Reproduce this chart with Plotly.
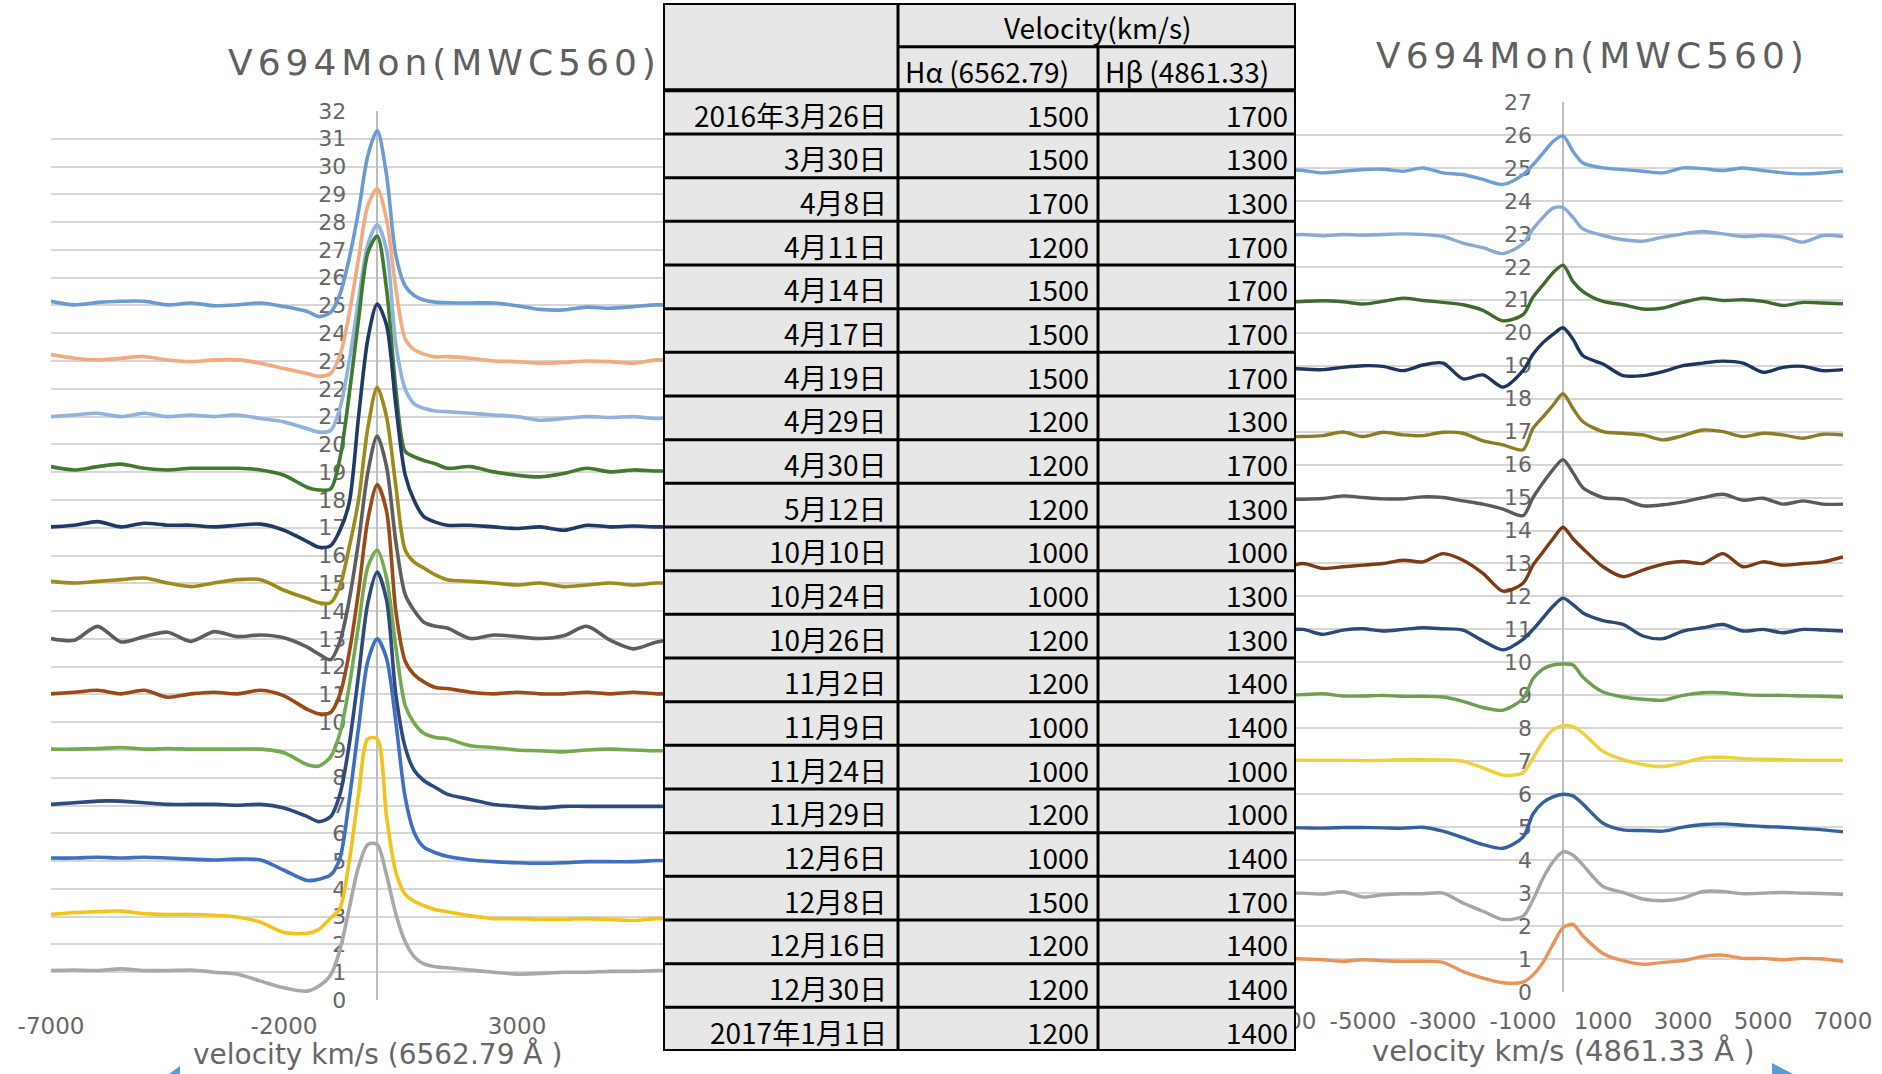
import plotly.graph_objects as go

W, H = 1882, 1074

# ---------------------------------------------------------------- data: H-alpha profiles (left chart)
VEL_HA = [-7000, -6500, -6000, -5500, -5000, -4500, -4000, -3500, -3000, -2500, -2000,
          -1500, -1250, -1000, -800, -600, -400, -200, 0, 200, 400, 600, 800, 1000, 1250, 1500,
          2000, 2500, 3000, 3500, 4000, 4500, 5000, 5500, 6000, 6500, 7000, 8000]

HA_25 = [25.15, 25.02, 25.11, 25.15, 25.15, 25.02, 25.09, 24.99, 25.02, 25.09, 24.96,
         24.78, 24.60, 24.75, 25.40, 26.70, 28.40, 30.40, 31.30, 29.70, 26.80, 25.70, 25.35, 25.20, 25.12, 25.10,
         25.09, 25.09, 24.99, 24.86, 24.84, 24.94, 24.90, 24.96, 25.02, 25.00, 25.00, 25.00]
HA_23 = [23.23, 23.10, 23.04, 23.10, 23.16, 23.04, 22.98, 23.04, 23.04, 22.92, 22.73,
         22.55, 22.45, 22.55, 23.20, 24.70, 26.70, 28.60, 29.20, 28.10, 25.60, 23.80, 23.40, 23.25, 23.15, 23.16,
         23.10, 23.00, 22.98, 22.92, 22.95, 23.00, 22.98, 22.92, 23.04, 23.00, 23.00, 23.00]
HA_21 = [21.00, 21.06, 21.12, 21.00, 21.12, 21.00, 21.06, 21.00, 21.06, 20.93, 20.81,
         20.56, 20.44, 20.50, 21.30, 23.00, 25.20, 27.20, 27.90, 27.00, 23.60, 22.00, 21.45, 21.30, 21.20, 21.18,
         21.12, 21.06, 21.00, 20.87, 20.93, 21.00, 20.97, 21.00, 20.93, 21.00, 21.00, 21.00]
HA_19 = [19.20, 19.08, 19.20, 19.29, 19.14, 19.08, 19.14, 19.14, 19.14, 19.08, 18.89,
         18.45, 18.36, 18.40, 19.50, 21.80, 24.50, 26.90, 27.50, 25.60, 22.00, 19.75, 19.55, 19.42, 19.30, 19.14,
         19.20, 19.01, 18.89, 18.83, 18.95, 19.14, 19.01, 19.08, 19.04, 19.05, 19.05, 19.05]
HA_17 = [17.03, 17.09, 17.22, 17.03, 17.16, 17.09, 17.09, 17.03, 17.09, 17.13, 16.91,
         16.50, 16.30, 16.35, 16.90, 17.90, 21.00, 23.80, 25.05, 24.30, 21.40, 18.90, 17.95, 17.40, 17.20, 17.09,
         17.09, 17.03, 16.97, 17.03, 16.91, 17.09, 17.03, 17.06, 17.03, 17.05, 17.05, 17.05]
HA_15 = [15.07, 15.01, 15.07, 15.13, 15.19, 15.01, 14.88, 15.01, 15.13, 15.13, 14.75,
         14.45, 14.30, 14.30, 14.90, 16.30, 18.00, 20.60, 22.05, 21.00, 18.50, 16.20, 15.75, 15.55, 15.30, 15.13,
         15.07, 15.01, 14.94, 15.01, 14.88, 14.94, 15.01, 14.94, 15.01, 15.00, 15.00, 15.00]
HA_13 = [13.01, 12.95, 13.45, 12.89, 13.08, 13.24, 12.91, 13.26, 13.08, 13.14, 13.04,
         12.70, 12.45, 12.25, 12.90, 14.40, 16.50, 19.00, 20.30, 19.20, 16.50, 14.60, 14.00, 13.60, 13.45, 13.39,
         13.01, 13.14, 13.08, 13.01, 13.11, 13.45, 12.95, 12.64, 12.89, 13.00, 13.00, 13.00]
HA_11 = [11.02, 11.08, 11.15, 11.02, 11.15, 10.90, 11.02, 11.08, 11.02, 11.15, 10.95,
         10.46, 10.30, 10.35, 11.00, 12.50, 14.70, 17.30, 18.55, 17.60, 14.00, 12.20, 11.70, 11.45, 11.25, 11.21,
         11.08, 11.02, 11.08, 11.02, 11.02, 11.08, 11.02, 11.08, 11.02, 11.05, 11.05, 11.05]
HA_09 = [9.03, 9.03, 9.05, 9.09, 9.03, 9.05, 9.03, 9.03, 9.03, 9.03, 8.90,
         8.47, 8.42, 8.75, 9.60, 11.30, 13.50, 15.60, 16.20, 15.20, 12.70, 10.60, 9.95, 9.60, 9.45, 9.40,
         9.15, 9.09, 9.00, 8.97, 8.93, 9.00, 9.03, 9.00, 8.97, 9.00, 9.00, 9.00]
HA_07 = [7.04, 7.10, 7.16, 7.16, 7.10, 7.04, 7.04, 7.04, 7.01, 7.04, 6.91,
         6.60, 6.42, 6.60, 7.40, 9.20, 11.70, 14.30, 15.40, 14.40, 11.00, 9.10, 8.25, 7.90, 7.65, 7.41,
         7.22, 7.04, 6.97, 6.91, 6.97, 6.97, 6.97, 6.97, 6.97, 6.97, 6.97, 6.97]
HA_05 = [5.11, 5.11, 5.14, 5.11, 5.14, 5.11, 5.07, 5.04, 5.07, 5.04, 4.67,
         4.30, 4.35, 4.50, 5.10, 7.20, 9.80, 12.20, 13.00, 12.30, 10.00, 7.30, 6.00, 5.50, 5.30, 5.17,
         5.04, 4.98, 4.94, 4.92, 4.94, 4.98, 4.98, 4.98, 5.02, 5.00, 5.00, 5.00]
HA_03 = [3.08, 3.15, 3.18, 3.20, 3.11, 3.08, 3.08, 3.05, 2.99, 2.80, 2.43,
         2.40, 2.55, 2.95, 3.30, 5.00, 7.40, 9.40, 9.40, 6.60, 4.60, 3.80, 3.55, 3.40, 3.25, 3.18,
         3.03, 2.93, 2.93, 2.90, 2.90, 2.93, 2.90, 2.86, 2.93, 2.90, 2.90, 2.90]
HA_01 = [1.06, 1.08, 1.06, 1.12, 1.06, 1.06, 1.08, 1.00, 0.93, 0.68, 0.44,
         0.32, 0.50, 0.90, 1.80, 3.30, 4.80, 5.60, 5.60, 4.50, 3.10, 2.10, 1.55, 1.30, 1.20, 1.16,
         1.08, 1.00, 0.93, 0.96, 1.00, 1.00, 1.03, 1.03, 1.06, 1.05, 1.05, 1.05]

HA_SERIES = [HA_25, HA_23, HA_21, HA_19, HA_17, HA_15, HA_13, HA_11, HA_09, HA_07, HA_05, HA_03, HA_01]
HA_COLORS = ["#6A9BD2", "#F2AA7E", "#8DB3DE", "#3F7A2F", "#1F3A66", "#9C8A1A", "#5E5E5E",
             "#9A4A18", "#72AB4F", "#2C4A7C", "#3F6FC0", "#F2C318", "#A8A8A8"]
HA_XTICKS = [-7000, -2000, 3000]

# ---------------------------------------------------------------- data: H-beta profiles (right chart)
VEL_HB = [-7000, -6500, -6000, -5500, -5000, -4500, -4000, -3500, -3000, -2500, -2000,
          -1500, -1000, -750, -500, -250, 0, 250, 500, 1000, 1500,
          2000, 2500, 3000, 3500, 4000, 4500, 5000, 5500, 6000, 6500, 7000]

HB_25 = [24.95, 24.92, 24.85, 24.90, 24.95, 24.96, 24.90, 25.00, 24.85, 24.80, 24.65,
         24.50, 24.80, 25.10, 25.45, 25.80, 25.97, 25.50, 25.15, 25.00, 24.95,
         24.90, 24.85, 25.00, 24.98, 24.92, 25.00, 24.92, 24.85, 24.82, 24.85, 24.90]
HB_23 = [22.95, 22.98, 22.94, 22.98, 22.96, 22.98, 23.00, 22.98, 22.92, 22.72, 22.58,
         22.40, 22.70, 23.15, 23.50, 23.78, 23.80, 23.50, 23.15, 22.95, 22.82,
         22.78, 22.90, 23.00, 23.07, 23.00, 22.92, 22.95, 22.90, 22.75, 22.95, 22.92]
HB_21 = [20.92, 20.95, 20.97, 20.94, 20.87, 20.95, 21.05, 20.98, 20.92, 20.85, 20.68,
         20.36, 20.55, 21.08, 21.45, 21.82, 22.05, 21.55, 21.25, 20.95, 20.85,
         20.72, 20.75, 20.92, 21.05, 20.98, 21.00, 20.95, 20.83, 20.92, 20.90, 20.88]
HB_19 = [18.93, 18.90, 18.88, 18.95, 19.00, 18.98, 18.85, 19.02, 19.08, 18.60, 18.72,
         18.35, 18.85, 19.35, 19.70, 19.95, 20.15, 19.80, 19.30, 19.05, 18.70,
         18.70, 18.82, 19.00, 19.08, 19.14, 19.08, 18.80, 18.95, 18.98, 18.85, 18.88]
HB_17 = [16.85, 16.85, 16.88, 16.99, 16.85, 16.98, 16.90, 16.88, 16.98, 16.95, 16.72,
         16.60, 16.45, 17.10, 17.45, 17.80, 18.15, 17.70, 17.30, 17.00, 16.95,
         16.90, 16.75, 16.88, 17.05, 17.00, 16.85, 16.95, 16.90, 16.80, 16.92, 16.90]
HB_15 = [14.95, 14.95, 14.97, 15.05, 15.00, 14.96, 14.96, 15.02, 15.00, 14.90, 14.80,
         14.65, 14.45, 15.00, 15.45, 15.85, 16.15, 15.75, 15.30, 15.00, 14.95,
         14.75, 14.78, 14.87, 15.00, 15.10, 14.92, 14.98, 14.80, 14.90, 14.80, 14.80]
HB_13 = [12.85, 13.00, 12.85, 12.90, 12.95, 13.00, 13.10, 13.05, 13.30, 13.10, 12.70,
         12.16, 12.40, 12.95, 13.35, 13.75, 14.10, 13.75, 13.45, 12.90, 12.60,
         12.80, 12.98, 13.06, 13.00, 13.30, 12.90, 13.05, 12.95, 13.00, 13.05, 13.20]
HB_11 = [10.98, 11.00, 10.85, 10.98, 11.02, 10.95, 11.00, 11.05, 11.02, 10.98, 10.65,
         10.38, 10.70, 11.00, 11.35, 11.70, 11.95, 11.75, 11.50, 11.27, 11.15,
         10.80, 10.72, 10.95, 11.05, 11.15, 10.95, 11.00, 10.90, 11.00, 10.98, 10.95]
HB_09 = [9.00, 9.02, 9.05, 8.98, 8.98, 9.00, 8.97, 8.97, 8.95, 8.82, 8.63,
         8.55, 8.90, 9.50, 9.80, 9.92, 9.95, 9.92, 9.55, 9.10, 8.95,
         8.88, 8.85, 9.00, 9.08, 9.08, 9.02, 9.00, 9.00, 8.98, 8.97, 8.95]
HB_07 = [7.05, 7.03, 7.03, 7.03, 7.02, 7.03, 7.05, 7.05, 7.04, 7.00, 6.80,
         6.58, 6.65, 7.10, 7.60, 7.95, 8.08, 8.05, 7.85, 7.30, 7.05,
         6.90, 6.84, 6.95, 7.10, 7.12, 7.08, 7.06, 7.05, 7.03, 7.03, 7.03]
HB_05 = [4.99, 4.98, 4.97, 4.99, 4.99, 4.98, 4.97, 5.00, 4.88, 4.68, 4.47,
         4.36, 4.70, 5.40, 5.75, 5.92, 6.00, 5.95, 5.70, 5.12, 4.92,
         4.90, 4.88, 5.00, 5.08, 5.10, 5.06, 5.02, 5.00, 4.96, 4.92, 4.86]
HB_03 = [2.99, 3.00, 2.97, 3.04, 2.88, 2.95, 2.98, 2.98, 3.00, 2.70, 2.45,
         2.20, 2.30, 2.80, 3.45, 3.95, 4.25, 4.15, 3.85, 3.20, 3.02,
         2.82, 2.77, 2.85, 3.05, 3.05, 2.98, 3.00, 3.02, 3.00, 2.99, 2.96]
HB_01 = [1.03, 1.00, 0.98, 0.93, 0.98, 0.95, 0.93, 0.93, 0.90, 0.62, 0.42,
         0.28, 0.30, 0.52, 0.90, 1.45, 1.95, 2.05, 1.70, 1.17, 0.95,
         0.84, 0.90, 0.95, 1.08, 1.12, 1.02, 1.02, 0.98, 1.02, 1.00, 0.93]

HB_SERIES = [HB_25, HB_23, HB_21, HB_19, HB_17, HB_15, HB_13, HB_11, HB_09, HB_07, HB_05, HB_03, HB_01]
HB_COLORS = ["#6E9FD3", "#86A9D6", "#3F6A2C", "#1E3560", "#8C7D24", "#5A5A5A", "#7C3A12",
             "#2B4A7A", "#6CA050", "#EDD13A", "#35609E", "#A5A5A5", "#E8935A"]
HB_XTICKS = [-7000, -5000, -3000, -1000, 1000, 3000, 5000, 7000]

# ---------------------------------------------------------------- data: velocity table
TABLE_TITLE = "Velocity(km/s)"
COL_HEADERS = ["Hα (6562.79)", "Hβ (4861.33)"]
DATES = ["2016年3月26日", "3月30日", "4月8日", "4月11日", "4月14日", "4月17日", "4月19日",
         "4月29日", "4月30日", "5月12日", "10月10日", "10月24日", "10月26日", "11月2日",
         "11月9日", "11月24日", "11月29日", "12月6日", "12月8日", "12月16日", "12月30日",
         "2017年1月1日"]
HA_VEL = [1500, 1500, 1700, 1200, 1500, 1500, 1500, 1200, 1200, 1200, 1000,
          1000, 1200, 1200, 1000, 1000, 1200, 1000, 1500, 1200, 1200, 1200]
HB_VEL = [1700, 1300, 1300, 1700, 1700, 1700, 1700, 1300, 1700, 1300, 1000,
          1300, 1300, 1400, 1400, 1000, 1000, 1400, 1700, 1400, 1400, 1400]

CHART_TITLE = "V694Mon(MWC560)"
HA_XTITLE = "velocity km/s (6562.79 Å )"
HB_XTITLE = "velocity km/s (4861.33 Å )"

# ---------------------------------------------------------------- geometry (pixels)
HA_BOX = dict(l=51, r=750, t=111, b=1000)
HB_BOX = dict(l=1283, r=1843, t=102, b=992)
TB_BOX = dict(l=663, r=1296, t=3, b=1051)
HA_XRANGE = [-7000, 8000]
HB_XRANGE = [-7000, 7000]
COL_EDGES = [0, 235, 435, 633]


def pxx(p):
    return p / W


def pxy(p):
    return 1 - p / H


def zero_pos(box, xr):
    return pxx(box["l"] + (0 - xr[0]) / (xr[1] - xr[0]) * (box["r"] - box["l"]))


GREY_TXT = "#666666"
GRID = "#D6D6D6"

fig = go.Figure()
for vals, col in zip(HA_SERIES, HA_COLORS):
    fig.add_trace(go.Scatter(x=VEL_HA, y=vals, mode="lines", xaxis="x", yaxis="y",
                             line=dict(color=col, width=3.6, shape="spline", smoothing=0.8),
                             showlegend=False, hoverinfo="skip"))
for vals, col in zip(HB_SERIES, HB_COLORS):
    fig.add_trace(go.Scatter(x=VEL_HB, y=vals, mode="lines", xaxis="x2", yaxis="y2",
                             line=dict(color=col, width=3.4, shape="spline", smoothing=0.8),
                             showlegend=False, hoverinfo="skip"))
# table coordinate system
fig.add_trace(go.Scatter(x=[], y=[], xaxis="x3", yaxis="y3", showlegend=False, hoverinfo="skip"))

xfont = dict(family="DejaVu Sans", size=23, color=GREY_TXT)
yfont = dict(family="DejaVu Sans", size=22, color=GREY_TXT)

fig.update_layout(
    width=W, height=H, margin=dict(l=0, r=0, t=0, b=0, autoexpand=False),
    paper_bgcolor="white", plot_bgcolor="white", showlegend=False,
    xaxis=dict(domain=[pxx(HA_BOX["l"]), pxx(HA_BOX["r"])], range=HA_XRANGE, anchor="y",
               tickvals=HA_XTICKS, ticktext=[str(v) for v in HA_XTICKS],
               showgrid=False, zeroline=True, zerolinecolor="#BDBDBD",
               zerolinewidth=1.5, ticks="", tickfont=xfont, ticklabelstandoff=10,
               layer="below traces", fixedrange=True, automargin=False),
    yaxis=dict(domain=[pxy(HA_BOX["b"]), pxy(HA_BOX["t"])], range=[0, 32], anchor="free",
               position=zero_pos(HA_BOX, HA_XRANGE), dtick=1, showgrid=True, gridcolor=GRID,
               gridwidth=1.5, zeroline=False, ticks="", tickfont=yfont, ticklabelstandoff=31,
               layer="below traces", fixedrange=True, automargin=False),
    xaxis2=dict(domain=[pxx(HB_BOX["l"]), pxx(HB_BOX["r"])], range=HB_XRANGE, anchor="y2",
                tickvals=HB_XTICKS, ticktext=[str(v) for v in HB_XTICKS],
                showgrid=False, zeroline=True, zerolinecolor="#BDBDBD",
                zerolinewidth=1.5, ticks="", tickfont=xfont, ticklabelstandoff=13,
                layer="below traces", fixedrange=True, automargin=False),
    yaxis2=dict(domain=[pxy(HB_BOX["b"]), pxy(HB_BOX["t"])], range=[0, 27], anchor="free",
                position=zero_pos(HB_BOX, HB_XRANGE), dtick=1, showgrid=True, gridcolor=GRID,
                gridwidth=1.5, zeroline=False, ticks="", tickfont=yfont, ticklabelstandoff=31,
                layer="below traces", fixedrange=True, automargin=False),
    xaxis3=dict(domain=[pxx(TB_BOX["l"]), pxx(TB_BOX["r"])], range=[0, COL_EDGES[-1]],
                anchor="y3", visible=False, fixedrange=True, automargin=False),
    yaxis3=dict(domain=[pxy(TB_BOX["b"]), pxy(TB_BOX["t"])], range=[2 + len(DATES), 0],
                anchor="x3", visible=False, fixedrange=True, automargin=False),
)

# ---------------------------------------------------------------- table drawing
n_rows = 2 + len(DATES)
right = COL_EDGES[-1]
shapes = [dict(type="rect", xref="x3", yref="y3", x0=0, x1=right, y0=0, y1=n_rows,
               fillcolor="#E7E7E7", line=dict(width=0), layer="above")]
for r in range(1, n_rows):
    x0 = COL_EDGES[1] if r == 1 else 0
    shapes.append(dict(type="line", xref="x3", yref="y3", x0=x0, x1=right, y0=r, y1=r,
                       line=dict(color="black", width=4 if r == 2 else 3), layer="above"))
shapes.append(dict(type="line", xref="x3", yref="y3", x0=COL_EDGES[1], x1=COL_EDGES[1],
                   y0=0, y1=n_rows, line=dict(color="black", width=3), layer="above"))
shapes.append(dict(type="line", xref="x3", yref="y3", x0=COL_EDGES[2], x1=COL_EDGES[2],
                   y0=1, y1=n_rows, line=dict(color="black", width=3), layer="above"))
shapes.append(dict(type="rect", xref="x3", yref="y3", x0=0, x1=right, y0=0, y1=n_rows,
                   line=dict(color="black", width=4), layer="above"))
# small blue corner markers
shapes.append(dict(type="path", xref="paper", yref="paper",
                   path=f"M {pxx(180)},{pxy(1066)} L {pxx(169)},{pxy(1074)} L {pxx(180)},{pxy(1074)} Z",
                   fillcolor="#5B9BD5", line=dict(width=0), layer="above"))
shapes.append(dict(type="path", xref="paper", yref="paper",
                   path=f"M {pxx(1772)},{pxy(1063)} L {pxx(1772)},{pxy(1074)} L {pxx(1793)},{pxy(1074)} Z",
                   fillcolor="#5B9BD5", line=dict(width=0), layer="above"))

tfont = dict(family="Noto Sans CJK JP", size=28, color="black")
ann = []
ann.append(dict(text=TABLE_TITLE, xref="x3", yref="y3", x=COL_EDGES[2], y=0.55,
                xanchor="center", yanchor="middle", showarrow=False, font=tfont))
for j, h in enumerate(COL_HEADERS):
    ann.append(dict(text=h, xref="x3", yref="y3", x=COL_EDGES[1 + j] + 5, y=1.55,
                    xanchor="left", yanchor="middle", showarrow=False, font=tfont))
for i, (d, a, b) in enumerate(zip(DATES, HA_VEL, HB_VEL)):
    yc = 2 + i + 0.56
    for txt, xe, pad in ((d, COL_EDGES[1], 9), (str(a), COL_EDGES[2], 7), (str(b), COL_EDGES[3], 6)):
        ann.append(dict(text=txt, xref="x3", yref="y3", x=xe - pad, y=yc, xanchor="right",
                        yanchor="middle", showarrow=False, font=tfont))

title_font = dict(family="DejaVu Sans", size=36, color="#5F5F5F")
ann.append(dict(text=f'<span style="letter-spacing:5px">{CHART_TITLE}</span>', xref="paper", yref="paper",
                x=pxx(444), y=pxy(63), xanchor="center", yanchor="middle", showarrow=False, font=title_font))
ann.append(dict(text=f'<span style="letter-spacing:5px">{CHART_TITLE}</span>', xref="paper", yref="paper",
                x=pxx(1592), y=pxy(56), xanchor="center", yanchor="middle", showarrow=False, font=title_font))
ann.append(dict(text=HA_XTITLE, xref="paper", yref="paper", x=pxx(377), y=pxy(1054),
                xanchor="center", yanchor="middle", showarrow=False,
                font=dict(family="DejaVu Sans", size=28, color=GREY_TXT)))
ann.append(dict(text=HB_XTITLE, xref="paper", yref="paper", x=pxx(1563), y=pxy(1051),
                xanchor="center", yanchor="middle", showarrow=False,
                font=dict(family="DejaVu Sans", size=29, color=GREY_TXT)))

fig.update_layout(shapes=shapes, annotations=ann)

fig.write_html("out.html", config={"displayModeBar": False},
               post_script="document.body.style.margin='0';document.body.style.overflow='hidden';")
